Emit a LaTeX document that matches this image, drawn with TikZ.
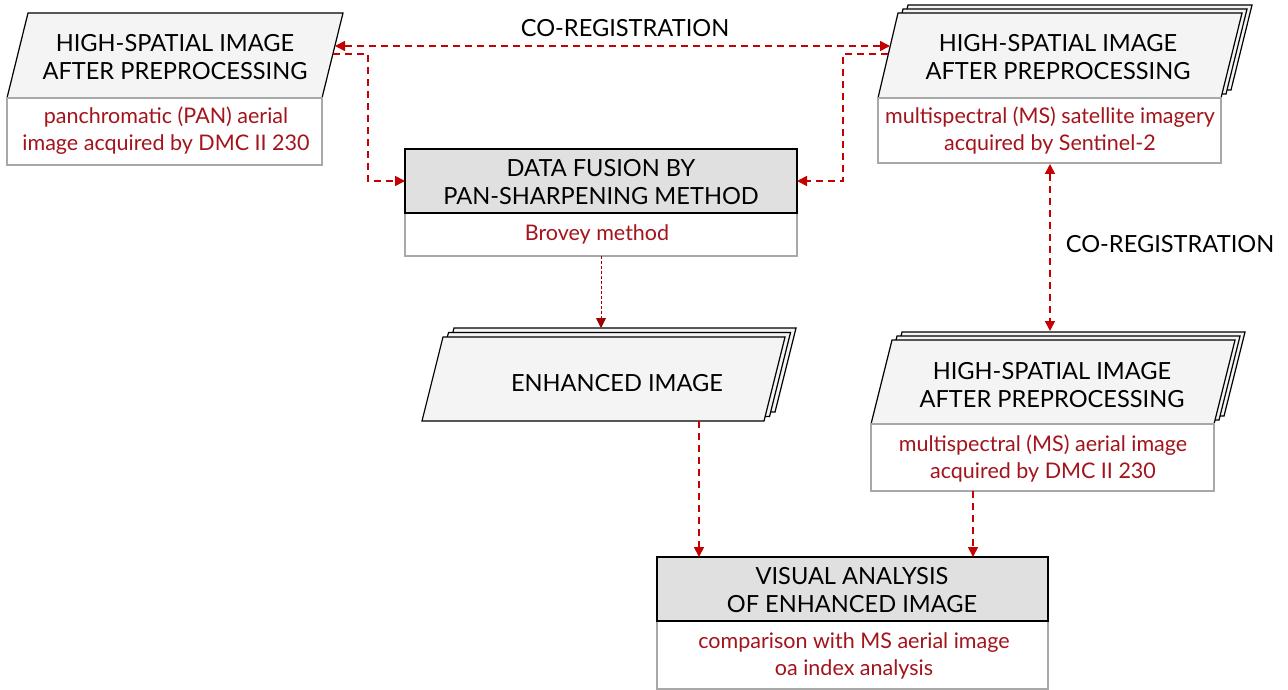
\documentclass[tikz,border=0pt]{standalone}
\usepackage{fontspec}
\setmainfont{Lato}
\usetikzlibrary{arrows.meta}
\definecolor{linered}{HTML}{C40000}
\definecolor{subred}{HTML}{A3141C}
\definecolor{pgfill}{HTML}{F4F4F4}
\definecolor{procfill}{HTML}{E0E0E0}
\definecolor{subgray}{HTML}{A8A8A8}
\tikzset{
  pg/.style={draw=black, line width=1.2pt, fill=pgfill, line join=miter},
  head/.style={font=\fontsize{23.6}{28}\selectfont, align=center, text=black, inner sep=0pt},
  subt/.style={font=\fontsize{21.5}{27}\selectfont, align=center, text=subred, inner sep=0pt},
  subbox/.style={draw=subgray, line width=1.5pt, fill=white},
  procbox/.style={draw=black, line width=2.4pt, fill=procfill},
  tip/.style={-{Triangle[width=10pt,length=10pt]}},
  conn/.style={draw=linered, line width=1.6pt, dash pattern=on 7pt off 5pt, tip},
  conntwo/.style={draw=linered, line width=1.6pt, dash pattern=on 7pt off 5pt, {Triangle[width=10pt,length=10pt]}-{Triangle[width=10pt,length=10pt]}},
  thinconn/.style={draw=linered!80!black, line width=0.9pt, dash pattern=on 3pt off 2pt, -{Triangle[width=10pt,length=10pt]}},
  lbl/.style={font=\fontsize{23.6}{28}\selectfont, text=black, inner sep=0pt}
}
\begin{document}
\begin{tikzpicture}[x=1pt,y=-1pt]
\useasboundingbox (0,0) rectangle (1288,690);
% ---- box 1 (top-left)
\draw[pg] (28,13) -- (343,13) -- (322,98) -- (7,98) -- cycle;
\draw[subbox] (7,98) rectangle (322,165);
\node[head] (h1) at (175,57) {HIGH-SPATIAL IMAGE\\AFTER PREPROCESSING};
\node[subt] (s1) at (166,131) {panchromatic (PAN) aerial\\image acquired by DMC II 230};
% ---- box 2 (top-right, stacked)
\foreach \d in {2,1}{
  \draw[pg, shift={(5*\d,-4*\d)}] (898,13) -- (1242,13) -- (1221,98) -- (878,98) -- cycle;}
\draw[pg] (898,13) -- (1242,13) -- (1221,98) -- (878,98) -- cycle;
\draw[subbox] (878,98) rectangle (1221,163);
\node[head] (h2) at (1058,57) {HIGH-SPATIAL IMAGE\\AFTER PREPROCESSING};
\node[subt] (s2) at (1050,131) {multispectral (MS) satellite imagery\\acquired by Sentinel-2};
% ---- box 3 (data fusion)
\draw[subbox] (405,213) rectangle (797,256);
\draw[procbox] (405,149) rectangle (797,213);
\node[head] (h3) at (601,182) {DATA FUSION BY\\PAN-SHARPENING METHOD};
\node[subt] (s3) at (597,234) {Brovey method};
% ---- box 4 (enhanced image, stacked)
\foreach \d in {2,1}{
  \draw[pg, shift={(5.5*\d,-4.5*\d)}] (443,337) -- (785,337) -- (764,421) -- (422,421) -- cycle;}
\draw[pg] (443,337) -- (785,337) -- (764,421) -- (422,421) -- cycle;
\node[head] (h4) at (617,383) {ENHANCED IMAGE};
% ---- box 5 (right-middle, stacked)
\foreach \d in {2,1}{
  \draw[pg, shift={(5*\d,-4*\d)}] (892,340) -- (1235,340) -- (1214,424) -- (871,424) -- cycle;}
\draw[pg] (892,340) -- (1235,340) -- (1214,424) -- (871,424) -- cycle;
\draw[subbox] (871,424) rectangle (1214,491);
\node[head] (h5) at (1052,385) {HIGH-SPATIAL IMAGE\\AFTER PREPROCESSING};
\node[subt] (s5) at (1043,459) {multispectral (MS) aerial image\\acquired by DMC II 230};
% ---- box 6 (visual analysis)
\draw[subbox] (657,621) rectangle (1048,689);
\draw[procbox] (657,557) rectangle (1048,621);
\node[head] (h6) at (852,590) {VISUAL ANALYSIS\\ OF ENHANCED IMAGE};
\node[subt] (s6) at (854,656) {comparison with MS aerial image\\oa index analysis};
% ---- labels
\node[lbl] (l1) at (625,28) {CO-REGISTRATION};
\node[lbl] (l2) at (1170,244) {CO-REGISTRATION};
% ---- connector endpoints
\coordinate (b1a) at (335,46);
\coordinate (b2a) at (890,46);
\coordinate (b1b) at (333,54);
\coordinate (b2b) at (888,54);
\coordinate (b3l) at (405,181);
\coordinate (b3r) at (797,181);
\coordinate (b3b) at (601,256);
\coordinate (b4t) at (601,328);
\coordinate (b2s) at (1050,164);
\coordinate (b5t) at (1050,331);
\coordinate (b4b) at (699,421);
\coordinate (b6l) at (699,557);
\coordinate (b5b) at (973,491);
\coordinate (b6r) at (973,557);
% ---- connectors
\draw[conntwo] (b1a) -- (b2a);
\draw[conn] (b1b) -- ++(35,0) |- (b3l);
\draw[conn] (b2b) -- ++(-45,0) |- (b3r);
\draw[thinconn] (b3b) -- (b4t);
\draw[conntwo] (b2s) -- (b5t);
\draw[conn] (b4b) -- (b6l);
\draw[conn] (b5b) -- (b6r);
\end{tikzpicture}
\end{document}
